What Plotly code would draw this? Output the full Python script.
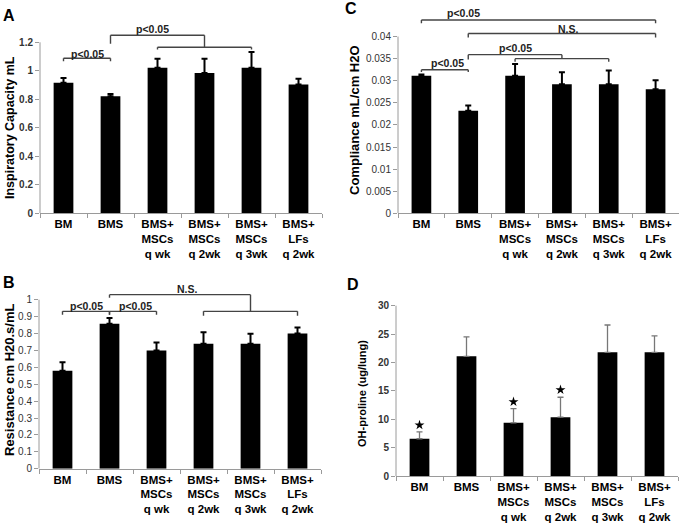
import plotly.graph_objects as go

# ---------------- data ----------------
categories = ["BM", "BMS", "BMS+<br>MSCs<br>q wk", "BMS+<br>MSCs<br>q 2wk",
              "BMS+<br>MSCs<br>q 3wk", "BMS+<br>LFs<br>q 2wk"]

ic_values = [0.917, 0.821, 1.022, 0.985, 1.022, 0.903]
ic_errors = [0.033, 0.016, 0.063, 0.10, 0.11, 0.042]
ic_ticks = [0, 0.2, 0.4, 0.6, 0.8, 1.0, 1.2]
ic_ticktext = ["0", "0.2", "0.4", "0.6", "0.8", "1", "1.2"]

comp_values = [0.0311, 0.0232, 0.0311, 0.0292, 0.0292, 0.0281]
comp_errors = [0.0003, 0.0012, 0.0027, 0.0027, 0.0031, 0.002]
comp_ticks = [0, 0.005, 0.01, 0.015, 0.02, 0.025, 0.03, 0.035, 0.04]
comp_ticktext = ["0", "0.005", "0.01", "0.015", "0.02", "0.025", "0.03", "0.035", "0.04"]

res_values = [0.58, 0.858, 0.70, 0.74, 0.74, 0.80]
res_errors = [0.05, 0.033, 0.047, 0.068, 0.058, 0.036]
res_ticks = [0, 0.1, 0.2, 0.3, 0.4, 0.5, 0.6, 0.7, 0.8, 0.9, 1.0]
res_ticktext = ["0", "0.1", "0.2", "0.3", "0.4", "0.5", "0.6", "0.7", "0.8", "0.9", "1"]

ohp_values = [6.6, 21.1, 9.4, 10.4, 21.8, 21.8]
ohp_errors = [1.2, 3.4, 2.5, 3.5, 4.8, 2.9]
ohp_star_y = [9.0, None, 13.1, 15.2, None, None]
ohp_ticks = [0, 5, 10, 15, 20, 25, 30]
ohp_ticktext = ["0", "5", "10", "15", "20", "25", "30"]

FONT = "Arial, Liberation Sans, sans-serif"
W, H = 686, 526

fig = go.Figure()


def px2fx(p):
    return p / W


def px2fy(p):
    return 1 - p / H


def add_panel(n, values, errors, yrange, tickvals, ticktext, xpx, ypx,
              err_color, err_thick, tick_bold):
    xa = "x" if n == 1 else f"x{n}"
    ya = "y" if n == 1 else f"y{n}"
    fig.add_trace(go.Bar(
        x=categories, y=values, xaxis=xa, yaxis=ya, width=0.42,
        marker=dict(color="black", line=dict(width=0)),
        error_y=dict(type="data", array=errors, arrayminus=[0] * len(errors),
                     symmetric=False, color=err_color, thickness=err_thick, width=3),
        showlegend=False, hoverinfo="skip"))
    xkey = "xaxis" if n == 1 else f"xaxis{n}"
    ykey = "yaxis" if n == 1 else f"yaxis{n}"
    fig.update_layout(**{
        xkey: dict(domain=[px2fx(xpx[0]), px2fx(xpx[1])], anchor=ya, type="category",
                   showline=True, linecolor="#9a9a9a", linewidth=1, automargin=False,
                   ticks="outside", tickson="boundaries", ticklen=4, tickcolor="#9a9a9a",
                   showgrid=False, zeroline=False, fixedrange=True,
                   tickfont=dict(family=FONT, size=11.5, color="black", weight="bold")),
        ykey: dict(domain=[px2fy(ypx[0]), px2fy(ypx[1])], anchor=xa, range=yrange,
                   tickvals=tickvals, ticktext=ticktext, automargin=False,
                   showline=False, ticks="outside", ticklen=4, tickcolor="#9a9a9a",
                   showgrid=False, zeroline=False, fixedrange=True,
                   tickfont=dict(family=FONT, size=10, color="#333",
                                 weight="bold" if tick_bold else "normal")),
    })
    # y-axis line only up to the top tick
    fig.add_shape(type="line", xref=f"{xa} domain", yref=ya, x0=0, x1=0,
                  y0=0, y1=tickvals[-1], line=dict(color="#9a9a9a", width=1))


add_panel(1, ic_values, ic_errors, [0, 1.4], ic_ticks, ic_ticktext,
          (40, 322), (213.3, 13.8), "black", 2, True)
add_panel(2, comp_values, comp_errors, [0, 0.0475], comp_ticks, comp_ticktext,
          (398, 679), (213.3, 3.4), "black", 2, False)
add_panel(3, res_values, res_errors, [0, 1.1], res_ticks, res_ticktext,
          (39, 321), (468.7, 282.8), "black", 2, False)
add_panel(4, ohp_values, ohp_errors, [0, 32], ohp_ticks, ohp_ticktext,
          (396, 678), (476.3, 294.3), "#777", 1.3, True)

# stars on panel D
fig.add_trace(go.Scatter(x=categories, y=ohp_star_y, xaxis="x4", yaxis="y4",
                         mode="markers", marker=dict(symbol="star", size=7.5, color="black"),
                         showlegend=False, hoverinfo="skip"))

BR = dict(color="#444", width=1.4)


def bracket(n, x0, x1, y, d0, d1):
    xa = "x" if n == 1 else f"x{n}"
    ya = "y" if n == 1 else f"y{n}"
    fig.add_shape(type="line", xref=xa, yref=ya, x0=x0, x1=x1, y0=y, y1=y, line=BR)
    fig.add_shape(type="line", xref=xa, yref=ya, x0=x0, x1=x0, y0=d0, y1=y, line=BR)
    fig.add_shape(type="line", xref=xa, yref=ya, x0=x1, x1=x1, y0=d1, y1=y, line=BR)


def label(n, x, y, text):
    xa = "x" if n == 1 else f"x{n}"
    ya = "y" if n == 1 else f"y{n}"
    fig.add_annotation(xref=xa, yref=ya, x=x, y=y, text=text, showarrow=False,
                       xanchor="center", yanchor="middle",
                       font=dict(family=FONT, size=10.5, color="#222", weight="bold"))


# Panel A brackets
bracket(1, 0, 1, 1.088, 1.067, 1.067)
label(1, 0.5, 1.118, "p<0.05")
bracket(1, 1, 3, 1.25, 1.19, 1.165)
bracket(1, 2, 4, 1.165, 1.15, 1.15)
label(1, 1.9, 1.29, "p<0.05")

# Panel C brackets
bracket(2, 0, 5, 0.04375, 0.0430, 0.0430)
label(2, 0.89, 0.0453, "p<0.05")
bracket(2, 1, 5, 0.0407, 0.0398, 0.0398)
label(2, 3.13, 0.0418, "N.S.")
bracket(2, 1, 3, 0.0359, 0.0348, 0.0350)
bracket(2, 2, 4, 0.0350, 0.0343, 0.0343)
label(2, 2.0, 0.0374, "p<0.05")
bracket(2, 0, 1, 0.0325, 0.0320, 0.0320)
label(2, 0.55, 0.0340, "p<0.05")

# Panel B brackets
bracket(3, 0, 1, 0.931, 0.911, 0.911)
label(3, 0.5, 0.963, "p<0.05")
bracket(3, 1, 2, 0.931, 0.911, 0.911)
label(3, 1.56, 0.963, "p<0.05")
bracket(3, 3, 5, 0.931, 0.905, 0.905)
bracket(3, 1, 4, 1.03, 1.012, 0.931)
label(3, 2.65, 1.062, "N.S.")

# Axis titles
def ytitle(xpx, ypx, text, size):
    fig.add_annotation(xref="paper", yref="paper", x=px2fx(xpx), y=px2fy(ypx),
                       xanchor="center", yanchor="middle",
                       text=text, textangle=-90, showarrow=False,
                       font=dict(family=FONT, size=size, color="black", weight="bold"))


ytitle(10, 128, "Inspiratory Capacity mL", 12.5)
ytitle(355, 120, "Compliance mL/cm H2O", 13)
ytitle(9, 380, "Resistance cm H20.s/mL", 13)
ytitle(362, 394, "OH-proline (ug/lung)", 11)

# Panel letters
for x, y, t in [(9, 15.5, "A"), (351, 9, "C"), (9, 282, "B"), (353, 284, "D")]:
    fig.add_annotation(xref="paper", yref="paper", x=px2fx(x), y=px2fy(y), text=t,
                       xanchor="center", yanchor="middle", showarrow=False,
                       font=dict(family=FONT, size=16, color="black", weight="bold"))

fig.update_layout(width=W, height=H, margin=dict(l=0, r=0, t=0, b=0, autoexpand=False),
                  paper_bgcolor="white", plot_bgcolor="white", bargap=0.2,
                  hovermode=False)

fig.write_html("out.html", config={"displayModeBar": False, "staticPlot": True},
               post_script="document.body.style.margin='0';")
